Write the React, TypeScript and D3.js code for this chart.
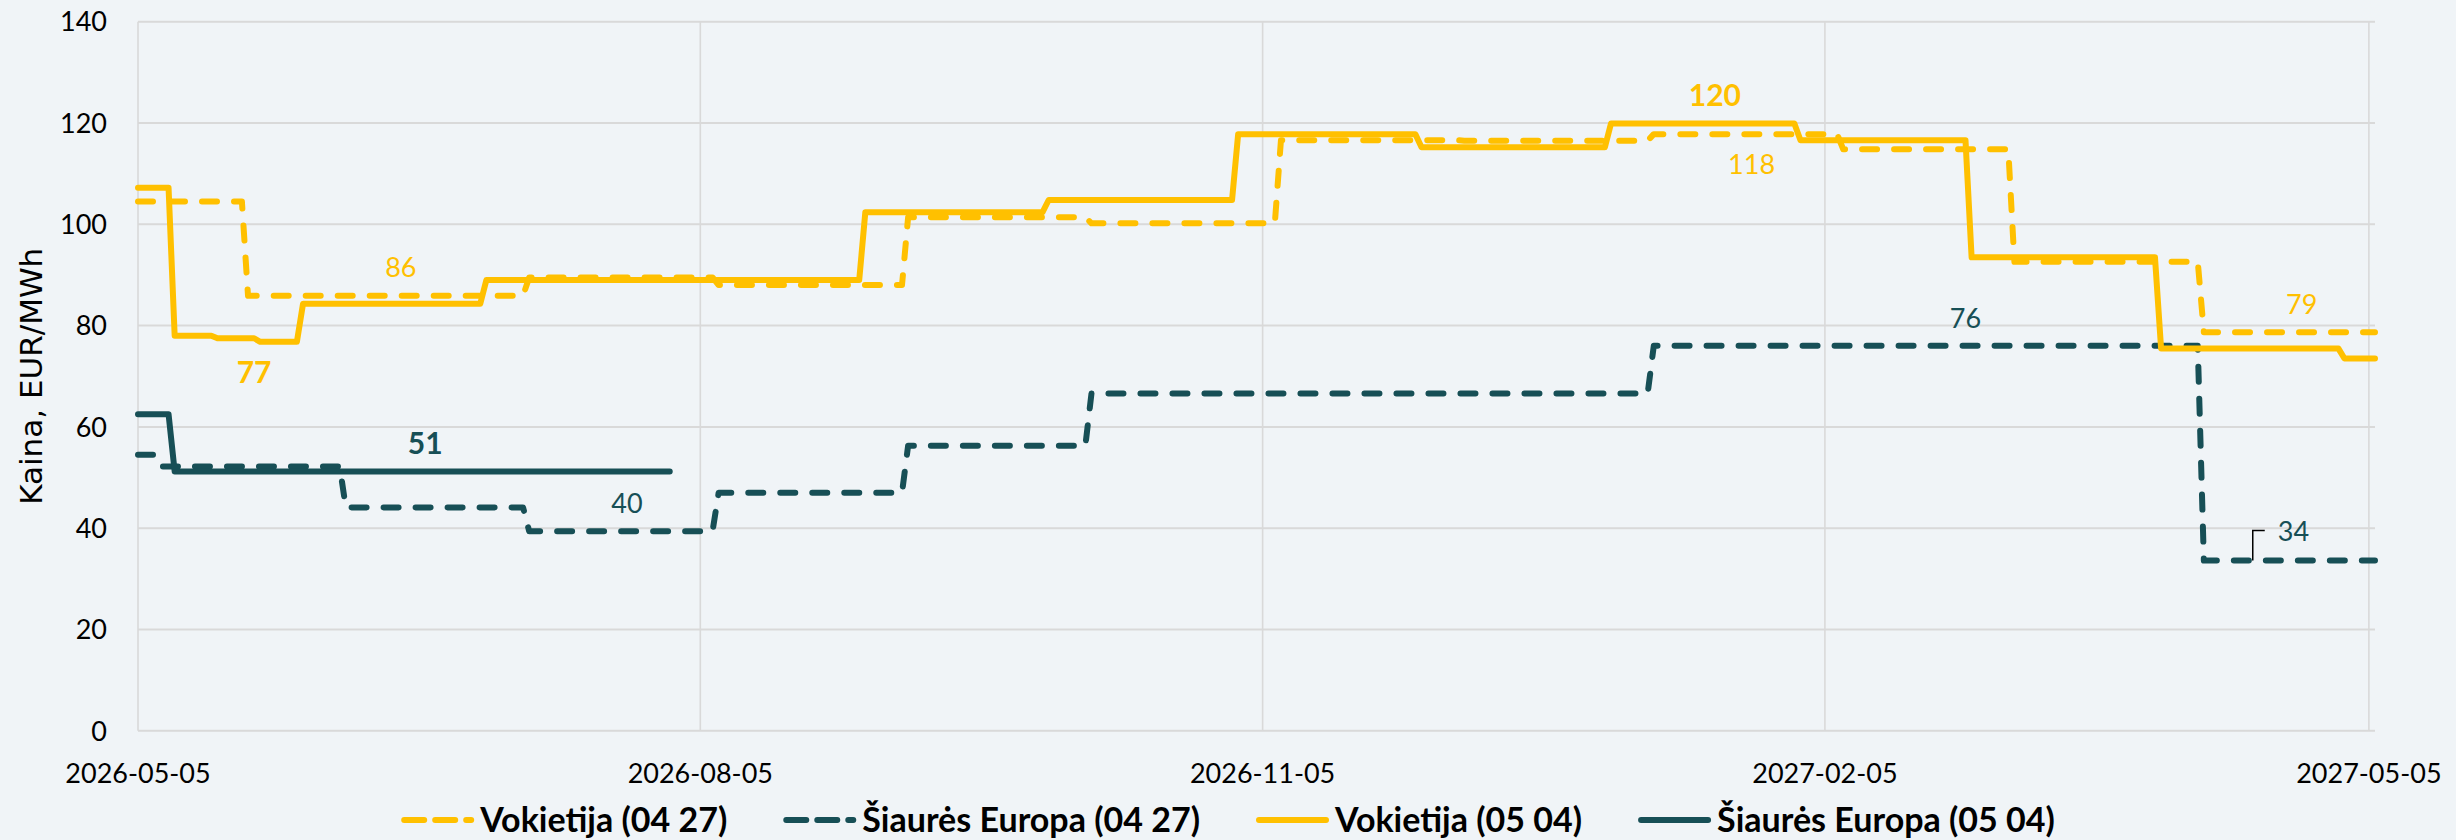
import { useEffect, useRef } from "react";
import * as d3 from "d3";

// forward curves, EUR/MWh (points at the start and end of each delivery level)
const vokietija0427: [string, number][] = [
  ["2026-05-05", 104.5], ["2026-05-22", 104.5],
  ["2026-05-23", 85.9], ["2026-07-07", 85.9],
  ["2026-07-08", 89.5], ["2026-08-07", 89.5],
  ["2026-08-08", 88.0], ["2026-09-07", 88.0],
  ["2026-09-08", 101.4], ["2026-10-07", 101.4],
  ["2026-10-08", 100.2], ["2026-11-07", 100.2],
  ["2026-11-08", 116.6], ["2026-12-07", 116.6],
  ["2026-12-08", 116.5], ["2027-01-07", 116.5],
  ["2027-01-08", 117.8], ["2027-02-07", 117.8],
  ["2027-02-08", 114.8], ["2027-03-07", 114.8],
  ["2027-03-08", 92.6], ["2027-04-07", 92.6],
  ["2027-04-08", 78.7], ["2027-05-06", 78.7],
];

const siaures0427: [string, number][] = [
  ["2026-05-05", 54.5], ["2026-05-08", 54.5],
  ["2026-05-09", 52.2], ["2026-06-07", 52.2],
  ["2026-06-08", 44.1], ["2026-07-07", 44.1],
  ["2026-07-08", 39.4], ["2026-08-07", 39.4],
  ["2026-08-08", 47.0], ["2026-09-07", 47.0],
  ["2026-09-08", 56.3], ["2026-10-07", 56.3],
  ["2026-10-08", 66.6], ["2027-01-07", 66.6],
  ["2027-01-08", 76.0], ["2027-04-07", 76.0],
  ["2027-04-08", 33.6], ["2027-05-06", 33.6],
];

const vokietija0504: [string, number][] = [
  ["2026-05-05", 107.2], ["2026-05-10", 107.2],
  ["2026-05-11", 78.0], ["2026-05-17", 78.0],
  ["2026-05-18", 77.5], ["2026-05-24", 77.5],
  ["2026-05-25", 76.8], ["2026-05-31", 76.8],
  ["2026-06-01", 84.3], ["2026-06-30", 84.3],
  ["2026-07-01", 89.0], ["2026-08-31", 89.0],
  ["2026-09-01", 102.4], ["2026-09-30", 102.4],
  ["2026-10-01", 104.8], ["2026-10-31", 104.8],
  ["2026-11-01", 117.8], ["2026-11-30", 117.8],
  ["2026-12-01", 115.2], ["2026-12-31", 115.2],
  ["2027-01-01", 119.9], ["2027-01-31", 119.9],
  ["2027-02-01", 116.6], ["2027-02-28", 116.6],
  ["2027-03-01", 93.5], ["2027-03-31", 93.5],
  ["2027-04-01", 75.5], ["2027-04-30", 75.5],
  ["2027-05-01", 73.5], ["2027-05-06", 73.5],
];

const siaures0504: [string, number][] = [
  ["2026-05-05", 62.5], ["2026-05-10", 62.5],
  ["2026-05-11", 51.2], ["2026-07-31", 51.2],
];

const yTicks = [0, 20, 40, 60, 80, 100, 120, 140];
const xTicks = ["2026-05-05", "2026-08-05", "2026-11-05", "2027-02-05", "2027-05-05"];
const xDomain = ["2026-05-05", "2027-05-06"];

// data labels: series key, date, value, text, position, bold
const dataLabels = [
  { s: "v0504", date: "2026-05-24", value: 76.8, text: "77", pos: "below", bold: true },
  { s: "v0427", date: "2026-06-17", value: 85.9, text: "86", pos: "above", bold: false },
  { s: "v0504", date: "2027-01-18", value: 119.9, text: "120", pos: "above", bold: true },
  { s: "v0427", date: "2027-01-24", value: 117.8, text: "118", pos: "below", bold: false },
  { s: "v0427", date: "2027-04-24", value: 78.7, text: "79", pos: "above", bold: false },
  { s: "s0504", date: "2026-06-21", value: 51.2, text: "51", pos: "above", bold: true },
  { s: "s0427", date: "2026-07-24", value: 39.4, text: "40", pos: "above", bold: false },
  { s: "s0427", date: "2027-02-28", value: 76.0, text: "76", pos: "above", bold: false },
  { s: "s0427", date: "2027-04-16", value: 33.6, text: "34", pos: "leader", bold: false },
];

const YELLOW = "#FFC000";
const TEAL = "#174F56";

const series = [
  { key: "v0427", name: "Vokietija (04 27)", data: vokietija0427, color: YELLOW, dashed: true },
  { key: "s0427", name: "Šiaurės Europa (04 27)", data: siaures0427, color: TEAL, dashed: true },
  { key: "v0504", name: "Vokietija (05 04)", data: vokietija0504, color: YELLOW, dashed: false },
  { key: "s0504", name: "Šiaurės Europa (05 04)", data: siaures0504, color: TEAL, dashed: false },
];

const W = 2456;
const H = 840;
const FONT = "Lato, 'Open Sans', sans-serif";

const App = () => {
  const ref = useRef<SVGSVGElement>(null);

  useEffect(() => {
    const parse = d3.utcParse("%Y-%m-%d");
    const x = d3.scaleUtc()
      .domain(xDomain.map(d => parse(d) as Date))
      .range([138, 2375]);
    const y = d3.scaleLinear().domain([0, 140]).range([730.8, 21.7]);
    const colorOf = Object.fromEntries(series.map(s => [s.key, s.color]));

    const svg = d3.select(ref.current);
    svg.selectAll("*").remove();
    svg.attr("width", W).attr("height", H);

    svg.append("rect").attr("width", W).attr("height", H).attr("fill", "#F0F4F7");

    // grid
    svg.append("g")
      .selectAll("line")
      .data(yTicks)
      .join("line")
      .attr("x1", 138).attr("x2", 2375)
      .attr("y1", d => y(d)).attr("y2", d => y(d))
      .attr("stroke", "#D9D9D9")
      .attr("stroke-width", 2);

    svg.append("g")
      .selectAll("line")
      .data(xTicks)
      .join("line")
      .attr("x1", d => x(parse(d) as Date)).attr("x2", d => x(parse(d) as Date))
      .attr("y1", y(140)).attr("y2", y(0))
      .attr("stroke", "#D9D9D9")
      .attr("stroke-width", 1.6);

    // axis labels
    svg.append("g")
      .selectAll("text")
      .data(yTicks)
      .join("text")
      .attr("x", 107)
      .attr("y", d => y(d))
      .attr("dy", "0.36em")
      .attr("text-anchor", "end")
      .style("font-family", FONT)
      .style("font-size", "27px")
      .attr("fill", "#000")
      .text(d => d);

    svg.append("g")
      .selectAll("text")
      .data(xTicks)
      .join("text")
      .attr("x", d => x(parse(d) as Date))
      .attr("y", 783)
      .attr("text-anchor", "middle")
      .style("font-family", FONT)
      .style("font-size", "27px")
      .attr("fill", "#000")
      .text(d => d);

    svg.append("text")
      .attr("transform", `translate(42, ${(y(0) + y(140)) / 2}) rotate(-90)`)
      .attr("text-anchor", "middle")
      .style("font-family", "'DejaVu Sans', sans-serif")
      .style("font-size", "31px")
      .attr("fill", "#000")
      .text("Kaina, EUR/MWh");

    // lines
    const line = d3.line<[string, number]>()
      .x(d => x(parse(d[0]) as Date))
      .y(d => y(d[1]));

    svg.append("g")
      .selectAll("path")
      .data(series)
      .join("path")
      .attr("d", d => line(d.data))
      .attr("fill", "none")
      .attr("stroke", d => d.color)
      .attr("stroke-width", 6)
      .attr("stroke-linecap", "round")
      .attr("stroke-linejoin", "round")
      .attr("stroke-dasharray", d => (d.dashed ? "15 17" : null));

    // data labels
    const lbl = svg.append("g");
    dataLabels.forEach(l => {
      const px = x(parse(l.date) as Date);
      const py = y(l.value);
      const t = lbl.append("text")
        .style("font-family", FONT)
        .style("font-size", l.bold ? "30px" : "27px")
        .style("font-weight", l.bold ? "bold" : "normal")
        .attr("fill", colorOf[l.s])
        .attr("dy", "0.36em")
        .text(l.text);
      if (l.pos === "leader") {
        lbl.append("path")
          .attr("d", `M${px},${py} V${py - 30} H${px + 12}`)
          .attr("fill", "none")
          .attr("stroke", "#000")
          .attr("stroke-width", 1.5);
        t.attr("x", px + 25).attr("y", py - 29).attr("text-anchor", "start");
      } else {
        t.attr("x", px)
          .attr("y", l.pos === "above" ? py - 28 : py + 30)
          .attr("text-anchor", "middle");
      }
    });

    // legend
    const lineLen = 73;
    const textGap = 6;
    const itemGap = 56;
    const legend = svg.append("g");
    const items = series.map(s => {
      const g = legend.append("g");
      g.append("line")
        .attr("x1", 3).attr("x2", lineLen - 3)
        .attr("y1", 820).attr("y2", 820)
        .attr("stroke", s.color)
        .attr("stroke-width", 6)
        .attr("stroke-linecap", "round")
        .attr("stroke-dasharray", s.dashed ? "20 11" : null);
      const t = g.append("text")
        .attr("x", lineLen + textGap)
        .attr("y", 820)
        .attr("dy", "0.36em")
        .style("font-family", FONT)
        .style("font-size", "34px")
        .style("font-weight", "bold")
        .attr("fill", "#000")
        .text(s.name);
      const w = lineLen + textGap + (t.node() as SVGTextElement).getComputedTextLength();
      return { g, w };
    });
    const total = d3.sum(items, d => d.w) + itemGap * (items.length - 1);
    let cx = W / 2 - total / 2;
    items.forEach(it => {
      it.g.attr("transform", `translate(${cx},0)`);
      cx += it.w + itemGap;
    });
  }, []);

  return (
    <svg ref={ref} style={{ position: "absolute", left: 0, top: 0, display: "block" }}></svg>
  );
};

export default App;
